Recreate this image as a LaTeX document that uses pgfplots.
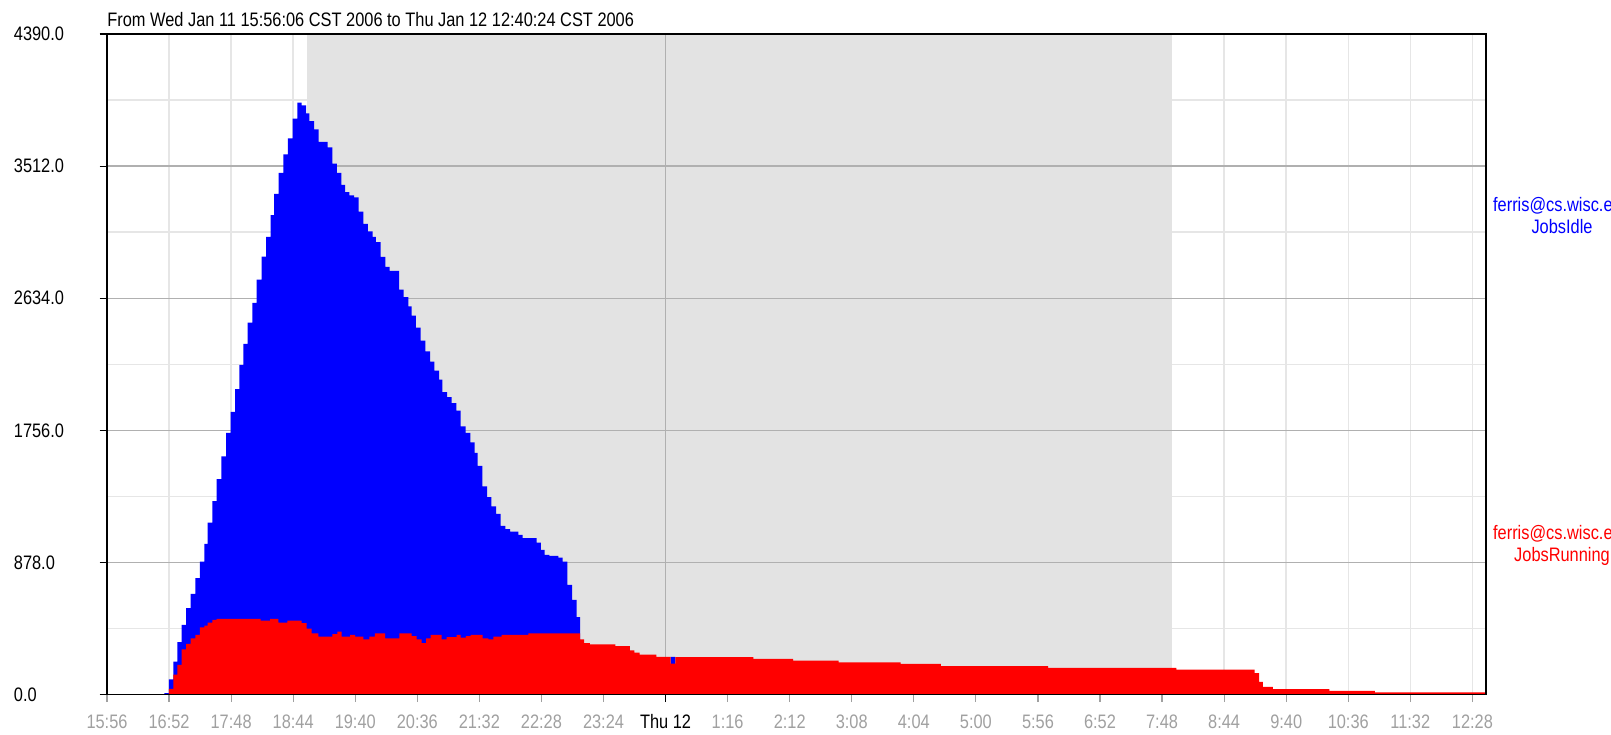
\documentclass[border=0pt]{standalone}
\usepackage{pgfplots}
\pgfplotsset{compat=1.18}
\usepackage{fontspec}
\setmainfont{Liberation Sans}[FakeStretch=0.84]
\definecolor{nightgray}{HTML}{E3E3E3}
\definecolor{lightgrid}{HTML}{E6E6E6}
\definecolor{majorgrid}{HTML}{B0B0B0}
\definecolor{ticklab}{HTML}{A0A0A0}
\newcommand\chartfont{\fontsize{9.75}{10.85}\selectfont}
\begin{document}
\begin{tikzpicture}[font=\chartfont]
\useasboundingbox (0,0) rectangle (805.5pt,367pt);
\begin{axis}[
  at={(53.5pt,19.65pt)}, anchor=south west,
  scale only axis, width=689.5pt, height=330.35pt,
  xmin=0, xmax=1244.3, ymin=0, ymax=4390,
  clip=false,
  axis line style={black, line width=0.6pt},
  xtick={0,56,112,168,224,280,336,392,448,560,616,672,728,784,840,896,952,1008,1064,1120,1176,1232},
  xticklabels={15:56,16:52,17:48,18:44,19:40,20:36,21:32,22:28,23:24,1:16,2:12,3:08,4:04,5:00,5:56,6:52,7:48,8:44,9:40,10:36,11:32,12:28},
  extra x ticks={504},
  extra x tick labels={Thu 12},
  extra x tick style={xtick style={color=black}, xticklabel style={text=black}},
  ytick={0,878,1756,2634,3512,4390},
  minor ytick={439,1317,2195,3073,3951},
  minor tick length=0pt,
  tick align=outside,
  xtick pos=bottom, ytick pos=left,
  major tick length=3.75pt,
  xtick style={color=ticklab, line width=0.6pt},
  ytick style={color=black, line width=0.6pt},
  tick label style={font=\chartfont},
  xticklabel style={text=ticklab, inner sep=0pt, anchor=north, yshift=-6pt},
  yticklabel style={inner sep=0pt, anchor=west, xshift=-43pt,
    /pgf/number format/fixed, /pgf/number format/fixed zerofill,
    /pgf/number format/precision=1, /pgf/number format/1000 sep={}},
  /pgf/number format/assume math mode=true,
  xmajorgrids=true, yminorgrids=true, ymajorgrids=false,
  major grid style={lightgrid, line width=0.75pt},
  minor grid style={lightgrid, line width=0.75pt},
]
% night region
\addplot [fill=nightgray, draw=none] coordinates {(180.7,4390) (961,4390)} \closedcycle;
% major grid lines
\addplot [majorgrid, line width=0.75pt] coordinates {(0,878) (1244.3,878)};
\addplot [majorgrid, line width=0.75pt] coordinates {(0,1756) (1244.3,1756)};
\addplot [majorgrid, line width=0.75pt] coordinates {(0,2634) (1244.3,2634)};
\addplot [majorgrid, line width=0.75pt] coordinates {(0,3512) (1244.3,3512)};
\addplot [majorgrid, line width=0.75pt] coordinates {(504,0) (504,4390)};
% JobsIdle
\addplot [const plot, fill=blue, draw=none] coordinates {
(0,0) (51.7,10) (55.9,102) (59.9,220) (63.5,349) (67.4,464) (71.3,575) (75.5,670)
(79.7,774) (83.9,885) (87.8,1002) (90.8,1144) (95.0,1286) (99.0,1433) (103.2,1583)
(107.4,1739) (111.6,1880) (115.5,2031) (119.4,2191) (123.0,2331) (126.9,2472)
(131.1,2603) (135.1,2758) (139.6,2911) (143.5,3042) (147.7,3186) (150.7,3328)
(154.9,3468) (159.1,3590) (163.3,3696) (167.5,3827) (171.8,3934) (175.7,3916)
(179.6,3862) (182.6,3811) (186.8,3756) (191.0,3674) (199.1,3636) (203.3,3528)
(207.5,3468) (211.5,3388) (214.8,3339) (218.7,3317) (222.9,3304) (227.1,3209)
(231.3,3129) (235.5,3078) (239.7,3042) (242.7,3007) (247.0,2909) (251.2,2843)
(255.1,2816) (263.5,2692) (267.7,2641) (271.9,2581) (274.9,2519) (278.8,2439)
(283.0,2353) (287.3,2281) (291.5,2213) (295.4,2153) (299.6,2093) (302.6,2011)
(306.8,1978) (311.0,1938) (315.2,1887) (319.1,1783) (323.6,1739) (327.9,1676)
(331.8,1606) (334.5,1521) (338.7,1384) (342.9,1313) (346.8,1251) (351.0,1202)
(355.2,1122) (359.4,1100) (363.7,1084) (371.2,1062) (375.1,1040) (387.7,1011)
(391.6,962) (394.9,929) (399.1,922) (407.3,911) (411.2,885) (415.4,730)
(419.6,630) (423.8,515) (426.8,0) (508.6,251) (512.8,0) (1244.3,0)
} \closedcycle;
% JobsRunning
\addplot [const plot, fill=red, draw=none] coordinates {
(0,0) (55.9,38) (59.9,133) (63.5,198) (67.4,302) (71.3,337) (75.5,375) (79.7,397)
(83.9,448) (87.8,459) (90.8,479) (95.0,497) (99.0,504) (138.7,492) (147.1,504)
(154.6,479) (162.7,492) (175.7,475) (180.2,439) (184.7,408) (190.7,386) (203.3,402)
(207.8,419) (211.8,386) (219.3,397) (223.8,386) (231.3,368) (236.7,386) (241.8,408)
(250.9,375) (263.8,408) (274.9,390) (279.4,368) (283.9,342) (287.9,375) (292.1,397)
(302.0,368) (306.5,382) (315.5,397) (319.1,380) (323.9,390) (328.2,397) (339.0,375)
(344.1,368) (348.6,386) (356.1,397) (380.2,408) (426.8,367) (430.5,343) (435.8,334)
(458.8,323) (471.7,294) (475.9,279) (480.5,266) (495.7,251) (508.6,207) (512.8,250)
(583.3,238) (619.2,227) (660.2,215) (716.0,204) (752.4,190) (849.2,178) (964.9,166)
(1035.5,144) (1039.5,86) (1043.0,52) (1052.0,37) (1103.0,25) (1144.0,15) (1244.3,15)
} \closedcycle;
% frame on top
\addplot [black, line width=0.6pt] coordinates {(0,0) (1244.3,0) (1244.3,4390) (0,4390) (0,0)};
\end{axis}
\node[anchor=base west, inner sep=0pt] at (53.5pt,353.85pt) {From Wed Jan 11 15:56:06 CST 2006 to Thu Jan 12 12:40:24 CST 2006};
\node[align=center, text=blue, inner sep=0pt] at (781pt,259.1pt) {ferris@cs.wisc.edu\\JobsIdle};
\node[align=center, text=red, inner sep=0pt] at (781pt,94.3pt) {ferris@cs.wisc.edu\\JobsRunning};
\end{tikzpicture}
\end{document}
